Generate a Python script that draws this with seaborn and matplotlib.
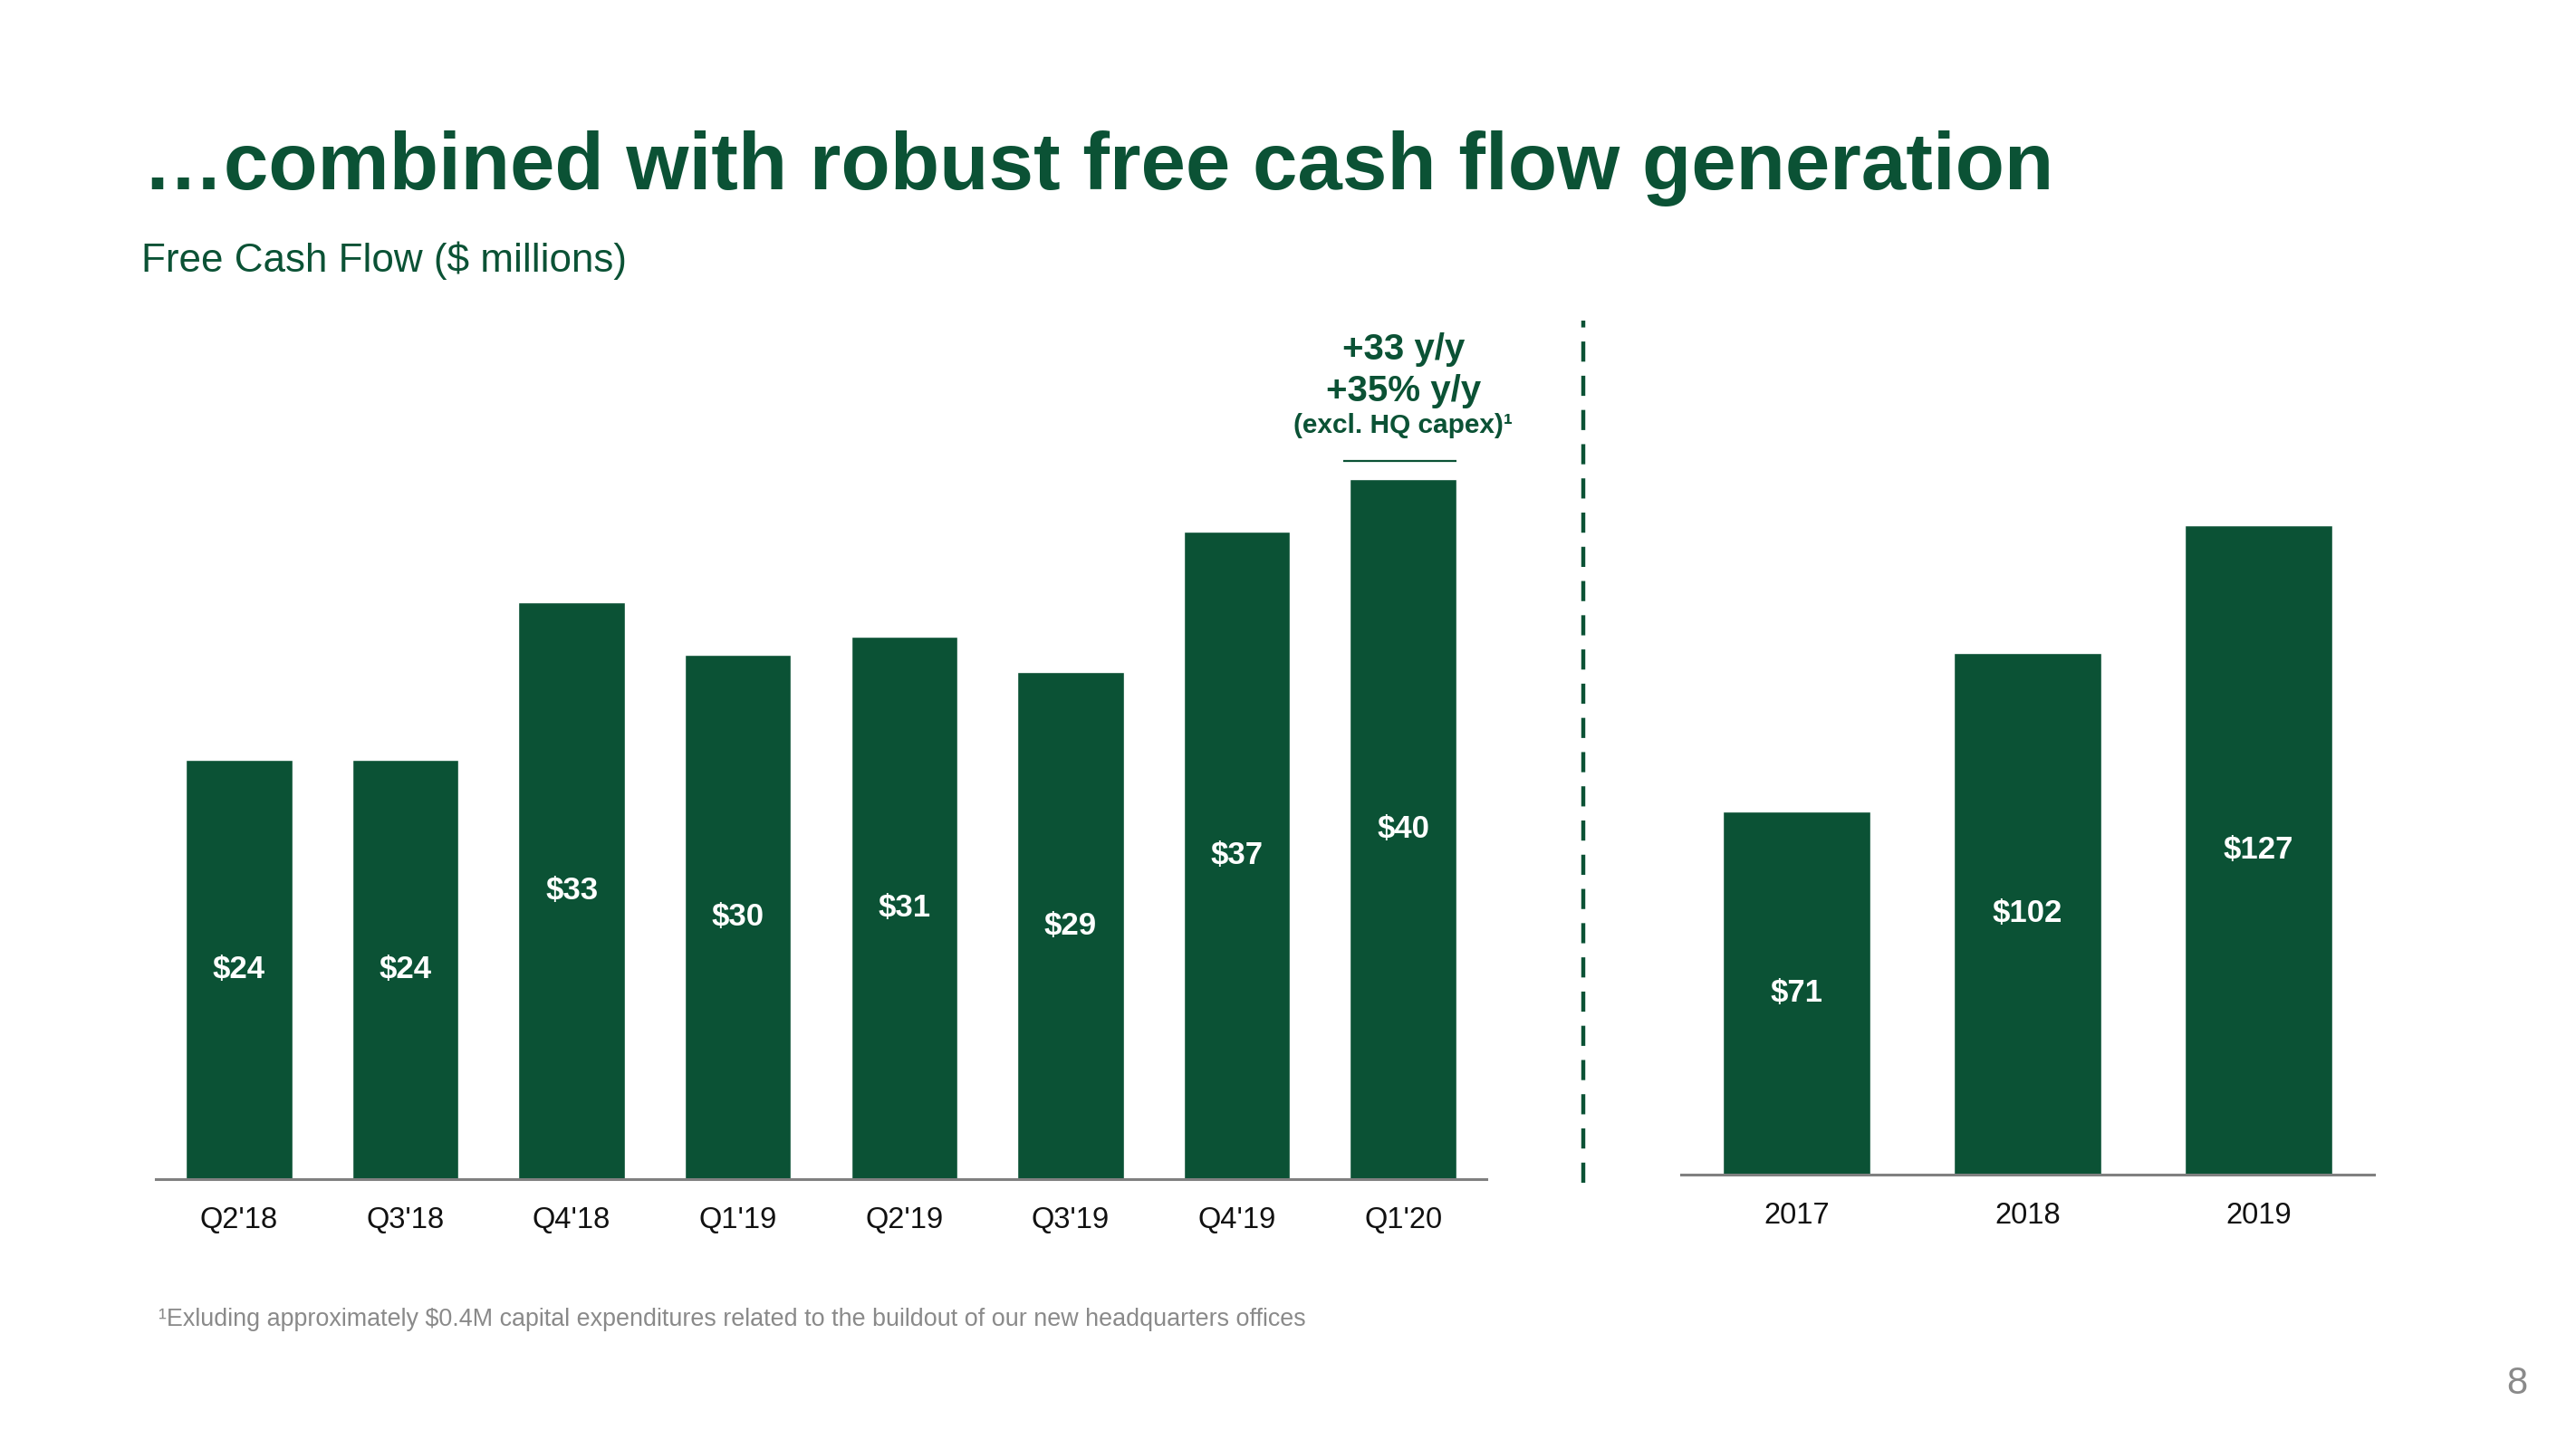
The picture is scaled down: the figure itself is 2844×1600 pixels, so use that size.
import matplotlib
matplotlib.use("Agg")
import matplotlib.pyplot as plt
import seaborn as sns
from matplotlib.lines import Line2D

# ---- data ----
quarters = ["Q2'18", "Q3'18", "Q4'18", "Q1'19", "Q2'19", "Q3'19", "Q4'19", "Q1'20"]
quarter_fcf = [24, 24, 33, 30, 31, 29, 37, 40]
years = ["2017", "2018", "2019"]
year_fcf = [71, 102, 127]

title = "\u2026combined with robust free cash flow generation"
subtitle = "Free Cash Flow ($ millions)"
annot_lines = ["+33 y/y", "+35% y/y", "(excl. HQ capex)\u00b9"]
footnote = "\u00b9Exluding approximately $0.4M capital expenditures related to the buildout of our new headquarters offices"
page_no = "8"

GREEN = "#0b5235"
GRAY = "#808080"

sns.set_theme(style="white")
plt.rcParams["font.family"] = ["Liberation Sans", "DejaVu Sans"]

fig = plt.figure(figsize=(28.44, 16), dpi=100)
fig.patch.set_facecolor("white")

ax1 = fig.add_axes([0.0605, 0.186, 0.5165, 0.604])
ax2 = fig.add_axes([0.6525, 0.1894, 0.2691, 0.60])


def draw(ax, cats, vals, ymax):
    sns.barplot(x=cats, y=vals, color=GREEN, saturation=1, width=0.64, ax=ax)
    ax.set_xlim(-0.5, len(cats) - 0.5)
    ax.set_ylim(0, ymax)
    for s in ["top", "right", "left"]:
        ax.spines[s].set_visible(False)
    ax.spines["bottom"].set_color(GRAY)
    ax.spines["bottom"].set_linewidth(2.2)
    ax.set_yticks([])
    ax.set_ylabel("")
    ax.set_xlabel("")
    ax.tick_params(axis="x", length=0, pad=21.5, labelsize=23.5, labelcolor="#111111")
    ax.bar_label(ax.containers[0], labels=[f"${v}" for v in vals], label_type="center",
                 color="white", fontsize=25, fontweight="bold")
    ax.set_facecolor("none")


draw(ax1, quarters, quarter_fcf, 50)
draw(ax2, years, year_fcf, 170)

# annotation above last quarterly bar
last_x = len(quarters) - 1
last_v = quarter_fcf[-1]
ax1.plot([last_x - 0.36, last_x + 0.32], [last_v + 1.05, last_v + 1.05], color=GREEN, lw=1.6,
         solid_capstyle="butt", clip_on=False)
ax1.text(last_x, last_v + 3.05, annot_lines[2], ha="center", va="center", fontsize=21.5,
         fontweight="bold", color=GREEN, clip_on=False)
ax1.text(last_x, last_v + 5.05, annot_lines[1], ha="center", va="center", fontsize=29,
         fontweight="bold", color=GREEN, clip_on=False)
ax1.text(last_x, last_v + 7.4, annot_lines[0], ha="center", va="center", fontsize=29,
         fontweight="bold", color=GREEN, clip_on=False)

# dashed divider
fig.add_artist(Line2D([0.6148, 0.6148], [0.184, 0.779], transform=fig.transFigure,
                      color=GREEN, lw=3.2, linestyle=(0, (5, 3.5))))

# titles
fig.text(0.0555, 0.884, title, fontsize=64, fontweight="bold", color=GREEN, ha="left", va="center")
fig.text(0.0548, 0.820, subtitle, fontsize=31.7, color=GREEN, ha="left", va="center")
fig.text(0.0615, 0.0895, footnote, fontsize=19.4, color="#8a8a8a", ha="left", va="center")
fig.text(0.977, 0.045, page_no, fontsize=30, color="#8a8a8a", ha="center", va="center")

fig.savefig("out.png", dpi=100, facecolor="white")
